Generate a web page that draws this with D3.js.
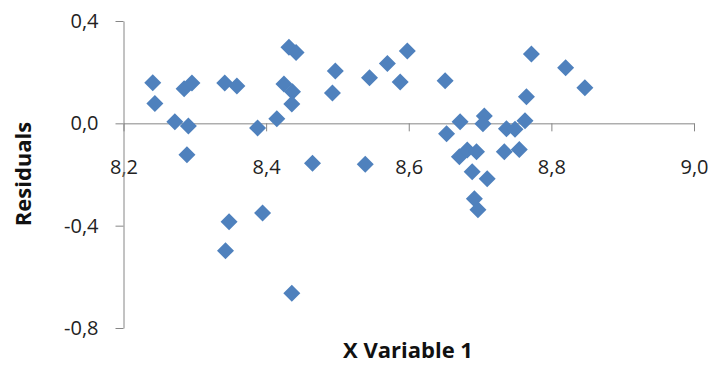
<!DOCTYPE html>
<html>
<head>
<meta charset="utf-8">
<script src="https://cdn.jsdelivr.net/npm/d3@7"></script>
<style>
  html, body { margin: 0; padding: 0; background: #fff; }
  svg { display: block; }
  .tick text { font-family: "Open Sans", "Noto Sans", sans-serif; fill: #222; }
</style>
</head>
<body>
<svg id="chart" width="715" height="367"></svg>
<script>
// Residual plot: X Variable 1 against residuals
const xValues = [
  8.241, 8.244, 8.272, 8.291, 8.289, 8.285, 8.296, 8.342, 8.359, 8.388,
  8.415, 8.425, 8.432, 8.442, 8.437, 8.436, 8.465, 8.497, 8.493, 8.539,
  8.545, 8.570, 8.598, 8.588, 8.651, 8.653, 8.672, 8.671, 8.682, 8.695,
  8.689, 8.710, 8.692, 8.697, 8.706, 8.704, 8.734, 8.755, 8.737, 8.749,
  8.763, 8.765, 8.772, 8.820, 8.847, 8.348, 8.395, 8.343, 8.436
];
const residuals = [
  0.159, 0.078, 0.006, -0.010, -0.123, 0.135, 0.158, 0.158, 0.146, -0.018,
  0.018, 0.154, 0.297, 0.277, 0.123, 0.076, -0.156, 0.205, 0.119, -0.160,
  0.178, 0.234, 0.283, 0.162, 0.166, -0.041, 0.006, -0.131, -0.104, -0.111,
  -0.189, -0.217, -0.295, -0.338, 0.029, -0.002, -0.111, -0.102, -0.021, -0.023,
  0.010, 0.104, 0.271, 0.217, 0.139, -0.385, -0.350, -0.498, -0.664
];
const xTicks = [8.2, 8.4, 8.6, 8.8, 9.0];
const yTicks = [-0.8, -0.4, 0.0, 0.4];
const xTitle = "X Variable 1";
const yTitle = "Residuals";

const svg = d3.select("#chart");
const locale = d3.formatLocale({ decimal: ",", thousands: ".", grouping: [3], currency: ["", ""], minus: "-" });
const fmt = locale.format(".1f");

const x = d3.scaleLinear().domain([8.2, 9.0]).range([123.5, 694]);
const y = d3.scaleLinear().domain([-0.8, 0.4]).range([328, 21]);
const axisColor = "#868686";

// x axis crosses at residual 0
const gx = svg.append("g")
  .attr("transform", `translate(0,${y(0)})`)
  .call(d3.axisBottom(x).tickValues(xTicks).tickFormat(fmt).tickSize(8).tickPadding(28).tickSizeOuter(0));
gx.select(".domain").attr("stroke", axisColor);
gx.selectAll(".tick line").attr("stroke", axisColor);
gx.selectAll(".tick text").attr("font-size", 20);

const gy = svg.append("g")
  .attr("transform", `translate(${x(8.2)},0)`)
  .call(d3.axisLeft(y).tickValues(yTicks).tickFormat(fmt).tickSize(8).tickPadding(17).tickSizeOuter(0));
gy.select(".domain").attr("stroke", axisColor);
gy.selectAll(".tick line").attr("stroke", axisColor);
gy.selectAll(".tick text").attr("font-size", 20);

// diamond markers
const r = 8.5;
const diamond = `M0,${-r}L${r},0L0,${r}L${-r},0Z`;
svg.append("g")
  .selectAll("path")
  .data(xValues.map((v, i) => [v, residuals[i]]))
  .join("path")
  .attr("d", diamond)
  .attr("transform", d => `translate(${x(d[0])},${y(d[1])})`)
  .attr("fill", "#4F81BD");

// axis titles
svg.append("text")
  .attr("x", 408).attr("y", 358)
  .attr("text-anchor", "middle")
  .attr("font-family", "'Open Sans', 'Noto Sans', sans-serif")
  .attr("font-weight", "bold").attr("font-size", 22).attr("fill", "#111")
  .text(xTitle);

svg.append("text")
  .attr("transform", "translate(31,174) rotate(-90)")
  .attr("text-anchor", "middle")
  .attr("font-family", "'Open Sans', 'Noto Sans', sans-serif")
  .attr("font-weight", "bold").attr("font-size", 22).attr("fill", "#111")
  .text(yTitle);
</script>
</body>
</html>
